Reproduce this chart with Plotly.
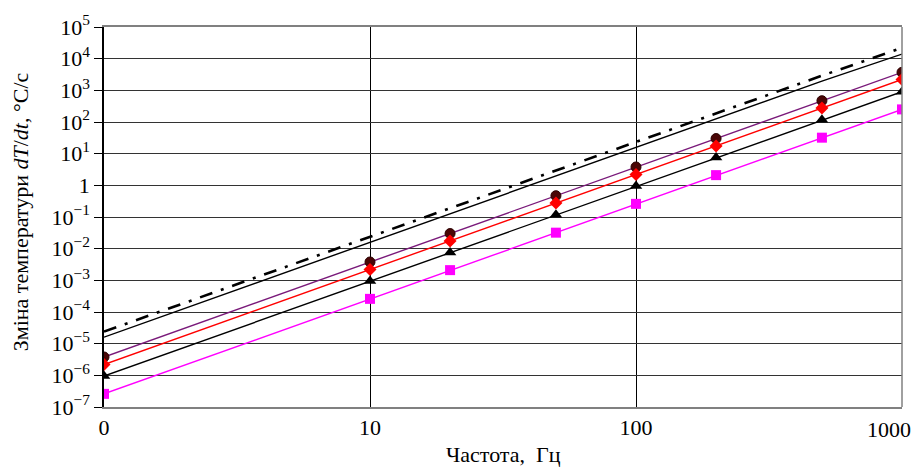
import plotly.graph_objects as go

freq = [1, 10, 20, 50, 100, 200, 500, 1000]
freq_tick_vals = [1, 10, 100]
freq_tick_text = ["0", "10", "100"]
freq_last_tick = 1000
freq_last_text = "1000"

s_circle = [3.8e-6, 3.8e-3, 0.030, 0.47, 3.8, 30, 470, 3700]
s_diamond = [2.2e-6, 2.2e-3, 0.0176, 0.275, 2.2, 17.6, 275, 2200]
s_triangle = [0.95e-6, 0.95e-3, 0.0076, 0.118, 0.95, 7.6, 118, 900]
s_square = [2.6e-7, 2.6e-4, 2.1e-3, 0.032, 0.26, 2.1, 32, 250]
s_solid = [1.6e-5, 1.6e-2, 0.125, 1.95, 15.5, 124, 1950, 14000]
s_dashdot = [2.4e-5, 2.4e-2, 0.19, 2.9, 23, 185, 2900, 22000]

y_tick_vals = [1e-7, 1e-6, 1e-5, 1e-4, 1e-3, 1e-2, 1e-1, 1, 1e1, 1e2, 1e3, 1e4, 1e5]
y_tick_text = ["10<sup>−7</sup>", "10<sup>−6</sup>", "10<sup>−5</sup>", "10<sup>−4</sup>",
               "10<sup>−3</sup>", "10<sup>−2</sup>", "10<sup>−1</sup>", "1",
               "10<sup>1</sup>", "10<sup>2</sup>", "10<sup>3</sup>", "10<sup>4</sup>",
               "10<sup>5</sup>"]

FONT = "Liberation Serif, Times New Roman, serif"
FS = 22

fig = go.Figure()
fig.add_trace(go.Scatter(x=freq, y=s_dashdot, mode="lines",
                         line=dict(color="black", width=2.6, dash="13px,9px,3px,9px")))
fig.add_trace(go.Scatter(x=freq, y=s_solid, mode="lines",
                         line=dict(color="black", width=1.4)))
fig.add_trace(go.Scatter(x=freq, y=s_circle, mode="lines+markers",
                         line=dict(color="#7a1a7a", width=1.4),
                         marker=dict(symbol="circle", size=10, color="#4a0606",
                                     line=dict(color="#2a0000", width=1))))
fig.add_trace(go.Scatter(x=freq, y=s_diamond, mode="lines+markers",
                         line=dict(color="#ff0000", width=1.4),
                         marker=dict(symbol="diamond", size=10, color="#ff0000")))
fig.add_trace(go.Scatter(x=freq, y=s_triangle, mode="lines+markers",
                         line=dict(color="black", width=1.4),
                         marker=dict(symbol="triangle-up", size=11, color="black")))
fig.add_trace(go.Scatter(x=freq, y=s_square, mode="lines+markers",
                         line=dict(color="#ff00ff", width=1.4),
                         marker=dict(symbol="square", size=10, color="#ff00ff")))

fig.update_layout(
    width=913, height=468,
    margin=dict(l=104, r=11, t=19, b=61),
    paper_bgcolor="white", plot_bgcolor="white",
    showlegend=False,
    font=dict(family=FONT, size=FS, color="black"),
    xaxis=dict(type="log", range=[0, 3], tickvals=freq_tick_vals, ticktext=freq_tick_text,
               showgrid=True, gridcolor="black", gridwidth=1,
               showline=True, linecolor="#808080", linewidth=1.5, mirror=True,
               ticks="", zeroline=False, tickfont=dict(size=FS)),
    yaxis=dict(type="log", range=[-7, 5], tickvals=y_tick_vals, ticktext=y_tick_text,
               showgrid=True, gridcolor="#333333", gridwidth=1,
               showline=True, linecolor="black", linewidth=1.5,
               ticks="outside", ticklen=8, tickcolor="black",
               zeroline=False, tickfont=dict(size=FS)),
    shapes=[dict(type="line", xref="paper", yref="paper", x0=1, x1=1, y0=0, y1=1,
                 line=dict(color="#808080", width=1.5))],
    annotations=[
        dict(text=freq_last_text, xref="x", yref="paper", x=3, y=-0.021,
             xanchor="right", yanchor="top", xshift=11, showarrow=False,
             font=dict(family=FONT, size=FS)),
        dict(text="Частота,  Гц", xref="paper", yref="paper", x=0.5, y=-0.124,
             xanchor="center", yanchor="middle", showarrow=False,
             font=dict(family=FONT, size=FS)),
        dict(text="Зміна температури <i>dT</i>/<i>dt</i>, °C/c", xref="paper", yref="paper",
             x=-0.105, y=0.513, xanchor="center", yanchor="middle", textangle=-90,
             showarrow=False, font=dict(family=FONT, size=FS)),
    ],
)

fig.write_html("out.html")
